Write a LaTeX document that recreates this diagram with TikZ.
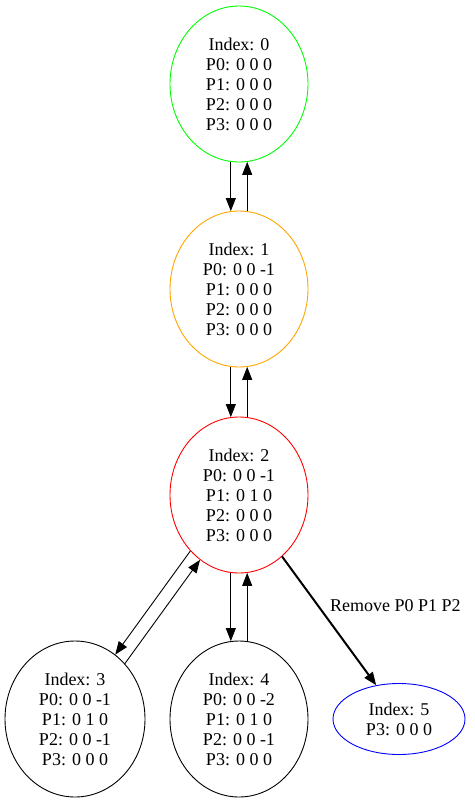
\documentclass[tikz,border=0pt]{standalone}
\usepackage{fontspec}
\setmainfont{Liberation Serif}
\usetikzlibrary{shapes.geometric,arrows.meta}

\begin{document}
\begin{tikzpicture}[x=1pt,y=-1pt,
    state/.style ={ellipse, draw, line width=0.9pt, inner sep=0pt, align=center,
      minimum width=138pt, minimum height=156pt,
      font=\fontsize{18}{20}\selectfont},
    trans/.style ={line width=0.9pt, -{Triangle[length=13pt,width=10pt]}}]
   \useasboundingbox (0,0) rectangle (474,803);

   \node[state, draw={rgb,255:red,0;green,255;blue,0}] (s0) at (239,84) {Index: 0\\P0: 0 0 0\\P1: 0 0 0\\P2: 0 0 0\\P3: 0 0 0};
   \node[state, draw={rgb,255:red,255;green,165;blue,0}] (s1) at (239,289) {Index: 1\\P0: 0 0 -1\\P1: 0 0 0\\P2: 0 0 0\\P3: 0 0 0};
   \node[state, draw=red] (s2) at (239,495) {Index: 2\\P0: 0 0 -1\\P1: 0 1 0\\P2: 0 0 0\\P3: 0 0 0};
   \node[state, minimum width=140pt] (s3) at (75,719) {Index: 3\\P0: 0 0 -1\\P1: 0 1 0\\P2: 0 0 -1\\P3: 0 0 0};
   \node[state] (s4) at (239,719) {Index: 4\\P0: 0 0 -2\\P1: 0 1 0\\P2: 0 0 -1\\P3: 0 0 0};
   \node[state, draw=blue, minimum width=132pt, minimum height=71pt] (s5) at (399,719) {Index: 5\\P3: 0 0 0};



   \draw[trans] (s0.264) to (s1.96);
   \draw[trans] (s1.84) to (s0.276);
   \draw[trans] (s1.264) to (s2.96);
   \draw[trans] (s2.84) to (s1.276);

   \draw[trans] (s2.229) to (s3.58);
   \draw[trans] (s3.48) to (s2.239);
   \draw[trans] (s2.264) to (s4.96);
   \draw[trans] (s4.84) to (s2.276);

   \draw[trans, line width=2pt] (s2.305) to node[pos=0.38, anchor=west, xshift=8pt, font=\fontsize{18}{20}\selectfont] {Remove P0 P1 P2} (s5.124);
 \end{tikzpicture}
\end{document}
